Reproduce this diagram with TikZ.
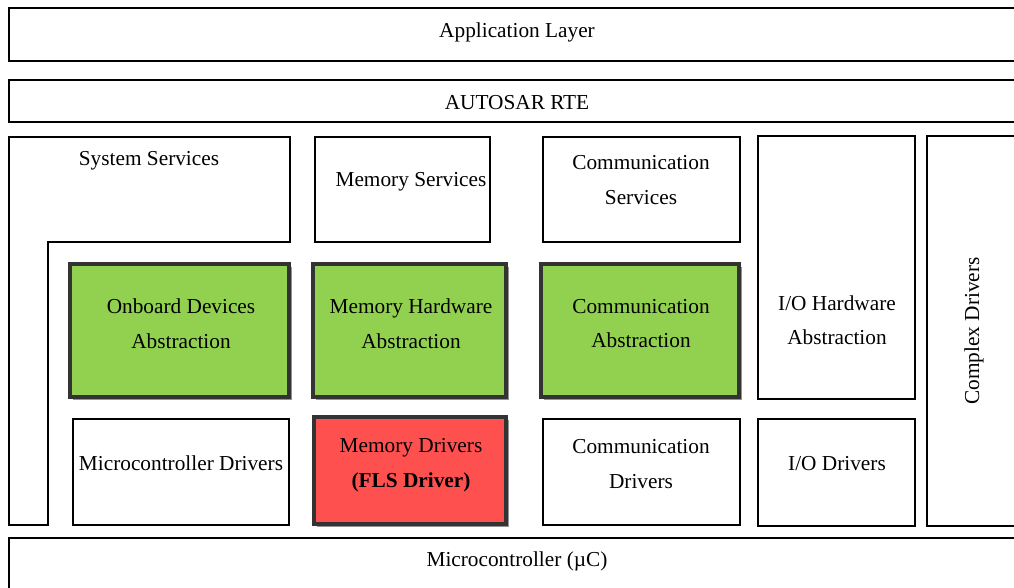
\documentclass[tikz,border=0pt]{standalone}
\usepackage{fontspec}
\setmainfont{Liberation Serif}
\newfontfamily\layerfont{Liberation Serif}
\usetikzlibrary{shadows}
\definecolor{absgreen}{HTML}{92D050}
\definecolor{drvred}{HTML}{FF5050}
\definecolor{edgedark}{HTML}{333333}
\tikzset{
  layer/.style={draw=black, line width=2.4pt, fill=white, inner sep=0pt},
  hilite/.style={draw=edgedark, line width=4pt, inner sep=0pt,
    drop shadow={shadow xshift=3pt, shadow yshift=-3pt, fill=gray!85, opacity=1}},
  lbl/.style={align=center, inner sep=0pt, font=\layerfont\fontsize{21.3}{34.5}\selectfont}
}
\newcommand{\boxat}[6]{% name, style, x1, y1, x2, y2
  \node[#2, minimum width={#5-#3}, minimum height={#6-#4}] (#1) at ({(#3+#5)/2},{(#4+#6)/2}) {};}
\begin{document}
\begin{tikzpicture}[x=1pt, y=-1pt]
  \useasboundingbox (0,0) rectangle (1014,587);
  \fill[white] (0,0) rectangle (1014,587);

  % horizontal layers
  \boxat{app}{layer}{9}{8}{1030}{61}
  \boxat{rte}{layer}{9}{80}{1030}{122}
  \boxat{mcu}{layer}{9}{538}{1030}{610}
  \node[lbl] (tapp) at (517,32.5) {Application Layer};
  \node[lbl] (trte) at (517,103) {AUTOSAR RTE};
  \node[lbl] (tmcu) at (517,561.5) {Microcontroller (µC)};

  % system services, L-shaped
  \coordinate (ss) at (9,137);
  \draw[line width=2.4pt, line join=miter] (ss) -- ++(281,0) -- ++(0,105) -- ++(-242,0)
    -- ++(0,283) -- ++(-39,0) -- cycle;
  \node[lbl] (tss) at (149,160.5) {System Services};

  % service boxes
  \boxat{memsrv}{layer}{315}{137}{490}{242}
  \boxat{comsrv}{layer}{543}{137}{740}{242}
  \node[lbl] (tmemsrv) at (411,181.5) {Memory Services};
  \node[lbl] (tcomsrv) at (641,180) {Communication\\Services};

  % I/O stack and complex drivers
  \boxat{iohw}{layer}{758}{136}{915}{399}
  \boxat{iodrv}{layer}{758}{419}{915}{526}
  \boxat{cdrv}{layer}{927}{136}{1030}{526}
  \node[lbl] (tiohw) at (837,320) {I/O Hardware\\Abstraction};
  \node[lbl] (tiodrv) at (837,464) {I/O Drivers};
  \node[lbl, rotate=90] (tcdrv) at (974,331) {Complex Drivers};

  % abstraction layer (highlighted)
  \boxat{onb}{hilite, fill=absgreen}{70}{264}{289}{397}
  \boxat{memhw}{hilite, fill=absgreen}{313}{264}{506}{397}
  \boxat{comabs}{hilite, fill=absgreen}{541}{264}{739}{397}
  \node[lbl] (tonb) at (181,323.5) {Onboard Devices\\Abstraction};
  \node[lbl] (tmemhw) at (411,323.5) {Memory Hardware\\Abstraction};
  \node[lbl] (tcomabs) at (641,323.5) {Communication\\Abstraction};

  % driver layer
  \boxat{mcdrv}{layer}{73}{419}{289}{525}
  \boxat{memdrv}{hilite, fill=drvred}{314}{417}{506}{524}
  \boxat{comdrv}{layer}{543}{419}{740}{525}
  \node[lbl] (tmcdrv) at (181,463.5) {Microcontroller Drivers};
  \node[lbl] (tmemdrv) at (411,465) {Memory Drivers\\\textbf{(FLS Driver)}};
  \node[lbl] (tcomdrv) at (641,464) {Communication\\Drivers};
\end{tikzpicture}
\end{document}
